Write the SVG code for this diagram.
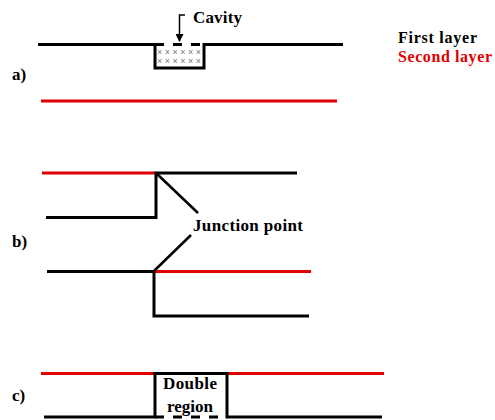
<svg xmlns="http://www.w3.org/2000/svg" width="495" height="420" viewBox="0 0 495 420">
<style>
.k{stroke:#000;stroke-width:3;fill:none}
.r{stroke:#e00000;stroke-width:3;fill:none}
.d{stroke:#000;stroke-width:3;fill:none;stroke-dasharray:9 9}
.t{font-family:"Liberation Serif","Times New Roman",serif;font-weight:bold;font-size:16px;fill:#000}
.b{font-size:17px}
.x{font-family:"Liberation Sans",Arial,sans-serif;font-size:9px;fill:#777}
</style>
<defs>
<marker id="ah" markerWidth="8" markerHeight="8" refX="7" refY="4" orient="auto" markerUnits="userSpaceOnUse">
<path d="M0,0 L8,4 L0,8 z" fill="#000"/>
</marker>
</defs>
<rect width="495" height="420" fill="#fff"/>
<g id="legend">
<text class="t" x="398" y="43" textLength="79" lengthAdjust="spacing">First layer</text>
<text class="t" x="398" y="62" textLength="94" lengthAdjust="spacing" style="fill:#e00000">Second layer</text>
</g>
<g id="panel-a">
<text class="t b" x="12" y="80">a)</text>
<path class="k" d="M38,44.5 H155 V68 H204 V44.5 H343"/>
<path class="d" d="M155,44.5 H204"/>
<text class="x" x="157" y="55" textLength="44" lengthAdjust="spacing">××××××</text>
<text class="x" x="157" y="64" textLength="44" lengthAdjust="spacing">××××××</text>
<path class="r" d="M41,101 H337"/>
<text class="t b" x="193" y="23" textLength="49" lengthAdjust="spacing">Cavity</text>
<path stroke="#000" stroke-width="1.5" fill="none" d="M185,15 H179.5 V41" marker-end="url(#ah)"/>
</g>
<g id="panel-b">
<text class="t b" x="12" y="247">b)</text>
<path class="r" d="M42,173 H156"/>
<path class="k" d="M46,217.5 H156 V173 H297"/>
<path class="k" d="M47,271.5 H154"/>
<path class="r" d="M154,271.5 H311"/>
<path class="k" d="M154,271.5 V316 H309"/>
<path stroke="#000" stroke-width="2.5" d="M156,173 L198,213"/>
<path stroke="#000" stroke-width="2.5" d="M191,235 L154,271"/>
<text class="t b" x="193" y="231" textLength="110" lengthAdjust="spacing">Junction point</text>
</g>
<g id="panel-c">
<text class="t b" x="12" y="401">c)</text>
<path class="r" d="M41,373.5 H155"/>
<path class="r" d="M227,373.5 H384"/>
<path class="k" d="M44,417 H155 V373.5 H227 V417 H382"/>
<path class="d" d="M155,417 H227"/>
<text class="t b" x="163" y="389" textLength="54" lengthAdjust="spacing">Double</text>
<text class="t b" x="167" y="412" textLength="46" lengthAdjust="spacing">region</text>
</g>
</svg>
